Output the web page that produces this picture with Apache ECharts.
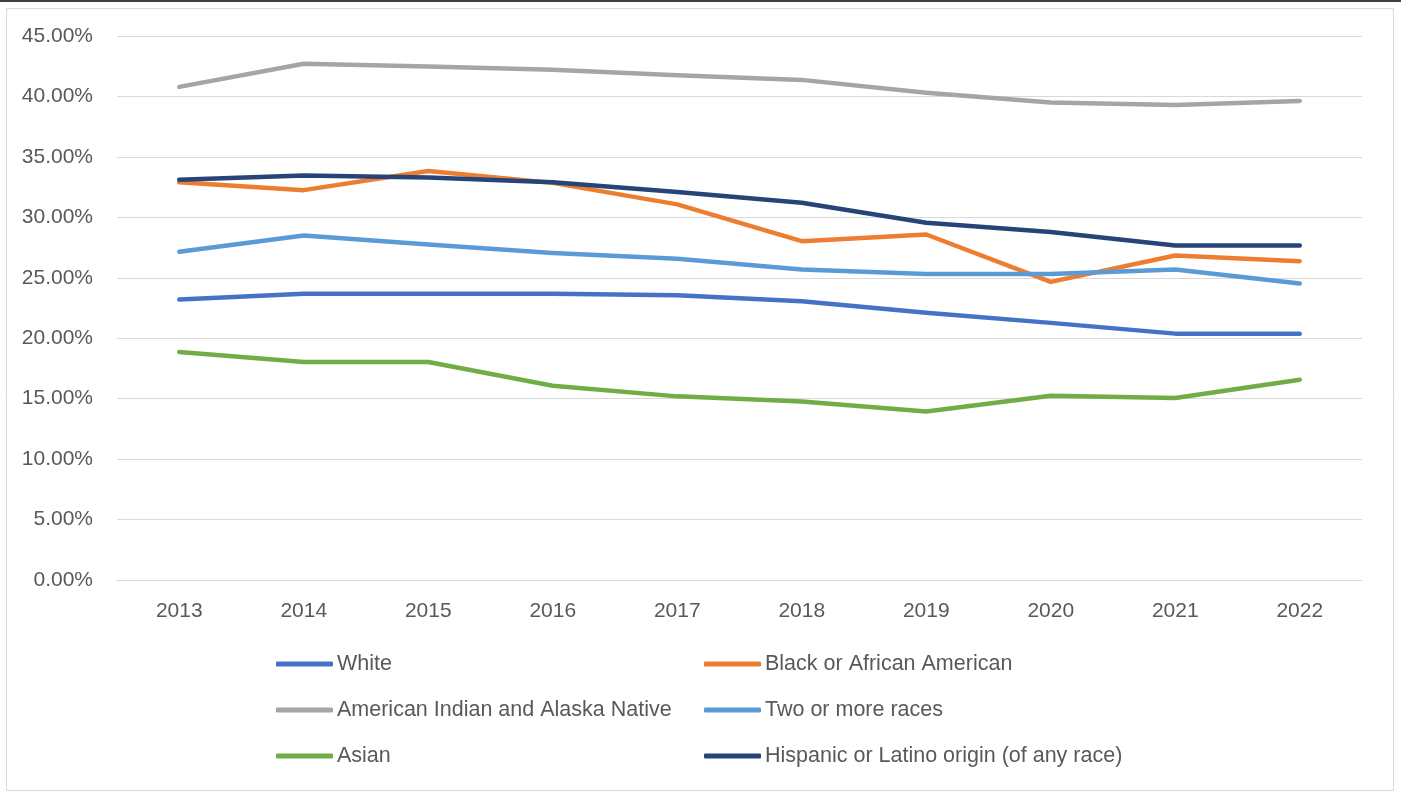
<!DOCTYPE html>
<html>
<head>
<meta charset="utf-8">
<script src="https://cdn.jsdelivr.net/npm/echarts@6/dist/echarts.min.js"></script>
<style>
html,body{margin:0;padding:0;background:#fff;}
#c{width:1401px;height:801px;}
</style>
</head>
<body>
<div id="c"></div>
<script>
const years = ['2013','2014','2015','2016','2017','2018','2019','2020','2021','2022'];
const white = [23.2, 23.67, 23.67, 23.67, 23.55, 23.06, 22.1, 21.27, 20.38, 20.38];
const black = [32.9, 32.25, 33.83, 32.85, 31.07, 28.03, 28.58, 24.66, 26.84, 26.37];
const aian = [40.79, 42.7, 42.48, 42.2, 41.75, 41.37, 40.3, 39.49, 39.3, 39.63];
const twoOrMore = [27.15, 28.5, 27.75, 27.05, 26.57, 25.68, 25.32, 25.32, 25.68, 24.52];
const asian = [18.87, 18.04, 18.04, 16.07, 15.19, 14.77, 13.94, 15.24, 15.05, 16.57];
const hispanic = [33.11, 33.47, 33.3, 32.9, 32.1, 31.2, 29.55, 28.78, 27.67, 27.67];
const yTicks = {min: 0, max: 45, interval: 5};

const names = ['White','Black or African American','American Indian and Alaska Native','Two or more races','Asian','Hispanic or Latino origin (of any race)'];
const colors = ['#4472C4','#ED7D31','#A5A5A5','#5B9BD5','#70AD47','#264478'];
const datasets = [white, black, aian, twoOrMore, asian, hispanic];

const font = '"Liberation Sans", Arial, sans-serif';
const textColor = '#595959';

const chart = echarts.init(document.getElementById('c'), null, {renderer: 'canvas'});

const legendCommon = {
  orient: 'vertical',
  icon: 'roundRect',
  itemWidth: 57,
  itemHeight: 5,
  itemGap: 24,
  padding: 0,
  selectedMode: false,
  textStyle: {color: textColor, fontFamily: font, fontSize: 21.5, padding: [0,0,0,-1]}
};

chart.setOption({
  animation: false,
  backgroundColor: '#ffffff',
  color: colors,
  graphic: [
    {type: 'rect', shape: {x: 6.5, y: 8.5, width: 1387, height: 782}, style: {fill: 'none', stroke: '#d9d9d9', lineWidth: 1}, z: -10},
    {type: 'rect', shape: {x: 0, y: 0, width: 1401, height: 2}, style: {fill: '#404040'}, z: -10}
  ],
  grid: {left: 117, right: 39, top: 36, bottom: 221, containLabel: false},
  legend: [
    Object.assign({}, legendCommon, {left: 276, top: 653, data: [names[0], names[2], names[4]]}),
    Object.assign({}, legendCommon, {left: 704, top: 653, data: [names[1], names[3], names[5]]})
  ],
  xAxis: {
    type: 'category',
    data: years,
    boundaryGap: true,
    axisLine: {show: true, lineStyle: {color: '#d9d9d9', width: 1}},
    axisTick: {show: false},
    axisLabel: {color: textColor, fontFamily: font, fontSize: 21, margin: 21}
  },
  yAxis: {
    type: 'value',
    min: yTicks.min,
    max: yTicks.max,
    interval: yTicks.interval,
    axisLine: {show: false},
    axisTick: {show: false},
    splitLine: {lineStyle: {color: '#d9d9d9', width: 1}},
    axisLabel: {color: textColor, fontFamily: font, fontSize: 21, margin: 24,
      formatter: v => v.toFixed(2) + '%'}
  },
  series: datasets.map((d, i) => ({
    name: names[i],
    type: 'line',
    data: d,
    symbol: 'none',
    lineStyle: {width: 4.5, color: colors[i], cap: 'round', join: 'round'},
    itemStyle: {color: colors[i]},
    z: 2 + i
  }))
});
</script>
</body>
</html>
